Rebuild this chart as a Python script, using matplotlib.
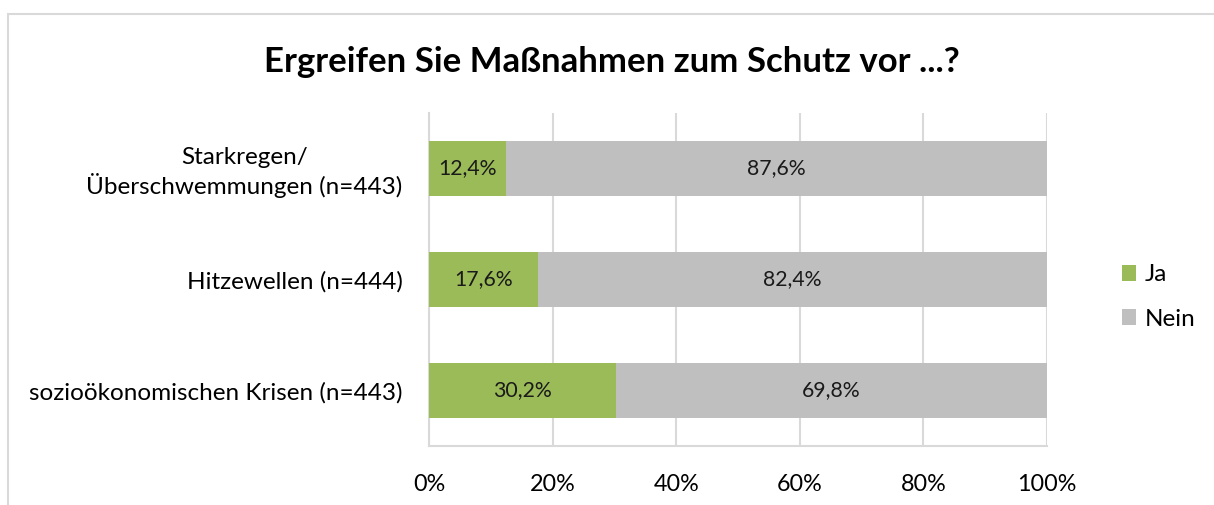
import numpy as np
import matplotlib
matplotlib.use('Agg')
import matplotlib.pyplot as plt
from matplotlib.patches import Rectangle

plt.rcParams['font.family'] = ['Lato', 'DejaVu Sans']

# Daten
kategorien = ['Starkregen/\nÜberschwemmungen (n=443)',
              'Hitzewellen (n=444)',
              'sozioökonomischen Krisen (n=443)']
ja = [12.4, 17.6, 30.2]
nein = [87.6, 82.4, 69.8]
xticks = [0, 20, 40, 60, 80, 100]
titel = 'Ergreifen Sie Maßnahmen zum Schutz vor ...?'

c_ja = '#9BBB59'
c_nein = '#BFBFBF'
c_grid = '#D9D9D9'

fig = plt.figure(figsize=(12.14, 5.05), dpi=100)
ax = fig.add_axes([429/1214, 59/505, 618/1214, 333/505])

# Rahmen des Diagramms
fig.patches.append(Rectangle((8/1214, -0.1), 1.2, (505-14)/505 + 0.1,
                             transform=fig.transFigure, fill=False,
                             edgecolor=c_grid, lw=1.5, zorder=0))

y = np.arange(len(kategorien))[::-1]
b1 = ax.barh(y, ja, height=0.5, color=c_ja, label='Ja', zorder=3)
b2 = ax.barh(y, nein, left=ja, height=0.5, color=c_nein, label='Nein', zorder=3)

for yi, a, n in zip(y, ja, nein):
    ax.text(a/2, yi, f'{a:.1f}%'.replace('.', ','), ha='center', va='center',
            fontsize=15.3, color='#1a1a1a', zorder=4)
    ax.text(a + n/2, yi, f'{n:.1f}%'.replace('.', ','), ha='center', va='center',
            fontsize=15.3, color='#1a1a1a', zorder=4)

ax.set_xlim(0, 100)
ax.set_ylim(-0.5, 2.5)
ax.set_xticks(xticks)
ax.set_xticklabels([f'{t}%' for t in xticks], fontsize=16.8)
ax.set_yticks(y)
ax.set_yticklabels(kategorien, fontsize=17.5, multialignment='center')
ax.tick_params(axis='x', length=0, pad=20.5)
ax.tick_params(axis='y', length=0, pad=19)
ax.xaxis.grid(True, color=c_grid, lw=1.5, zorder=0)
for s in ['top', 'right']:
    ax.spines[s].set_visible(False)
for s in ['left', 'bottom']:
    ax.spines[s].set_color(c_grid)
    ax.spines[s].set_linewidth(1.5)

fig.text(612/1214, 1 - 62/505, titel, ha='center', va='center',
         fontsize=25, fontweight='bold', color='black')

leg = ax.legend(loc='center left', bbox_to_anchor=(1100/1214, 1 - 297/505),
                bbox_transform=fig.transFigure, frameon=False, fontsize=17.5,
                handlelength=0.6, handleheight=0.6, handletextpad=0.35,
                labelspacing=0.95)

fig.savefig('out.png', dpi=100)
